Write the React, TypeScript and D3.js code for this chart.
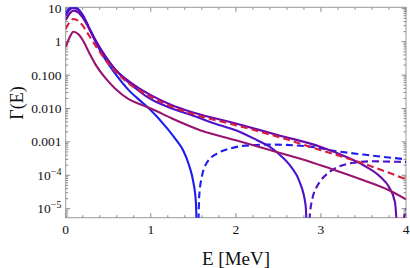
import React, { useEffect, useRef } from "react"
import * as d3 from "d3"

// Γ(E), stored as log10 values; -7 marks a zero crossing
const eBlue = [0, 0.05, 0.09, 0.15, 0.2, 0.27, 0.35, 0.47, 0.58, 0.74, 0.9, 1.0, 1.2, 1.3, 1.38, 1.45, 1.5, 1.53, 1.55]
const gBlue = [0.82, 1.02, 1.05, 0.97, 0.8, 0.43, 0.0, -0.55, -0.95, -1.45, -1.82, -2.05, -2.62, -2.95, -3.25, -3.7, -4.2, -4.8, -7]
const eBlueDash = [1.55, 1.57, 1.6, 1.66, 1.78, 1.93, 2.17, 2.4, 2.9, 3.11, 3.5, 4.0]
const gBlueDash = [-7, -4.6, -4.05, -3.62, -3.35, -3.2, -3.1, -3.08, -3.15, -3.25, -3.38, -3.52]

const eIndigo = [0, 0.05, 0.09, 0.15, 0.2, 0.27, 0.35, 0.47, 0.58, 0.74, 1.0, 1.25, 1.5, 1.75, 2.0, 2.25, 2.4, 2.5, 2.65, 2.75, 2.82, 2.85]
const gIndigo = [0.78, 0.97, 1.01, 0.95, 0.8, 0.45, 0.05, -0.45, -0.83, -1.22, -1.72, -2.0, -2.22, -2.45, -2.65, -2.95, -3.15, -3.35, -3.75, -4.2, -4.9, -7]
const eIndigoDash = [2.85, 2.87, 2.9, 2.95, 3.0, 3.1, 3.2, 3.4, 3.6, 3.8, 4.0]
const gIndigoDash = [-7, -5.2, -4.7, -4.35, -4.15, -3.9, -3.75, -3.62, -3.58, -3.59, -3.6]

const eViolet = [0, 0.05, 0.09, 0.15, 0.2, 0.27, 0.35, 0.47, 0.58, 0.74, 1.0, 1.25, 1.5, 2.0, 2.5, 3.0, 3.3, 3.5, 3.7, 3.8, 3.87, 3.92]
const gViolet = [0.65, 0.85, 0.93, 0.87, 0.72, 0.42, 0.03, -0.45, -0.82, -1.18, -1.6, -1.9, -2.12, -2.45, -2.8, -3.15, -3.45, -3.7, -4.05, -4.35, -4.8, -7]
const eVioletDash = [3.92, 3.94, 3.97, 4.0]
const gVioletDash = [-7, -5.9, -5.35, -5.0]

const eRed = [0, 0.05, 0.09, 0.15, 0.2, 0.27, 0.35, 0.47, 0.58, 0.74, 1.0, 1.25, 1.5, 2.0, 2.5, 3.0, 3.5, 4.0]
const gRed = [0.38, 0.6, 0.68, 0.62, 0.48, 0.2, -0.12, -0.55, -0.88, -1.25, -1.65, -1.95, -2.17, -2.5, -2.85, -3.25, -3.65, -4.12]

const eMagenta = [0, 0.05, 0.09, 0.15, 0.2, 0.27, 0.35, 0.47, 0.58, 0.74, 0.9, 1.0, 1.25, 1.58, 2.0, 2.41, 2.88, 3.11, 3.5, 3.8, 4.0]
const gMagenta = [-0.15, 0.15, 0.3, 0.22, 0.05, -0.3, -0.68, -1.1, -1.4, -1.72, -1.9, -2.0, -2.3, -2.65, -2.95, -3.25, -3.6, -3.8, -4.15, -4.45, -4.72]

const xTicks = [0, 1, 2, 3, 4]
const yTicks = [10, 1, 0.1, 0.01, 0.001, 1e-4, 1e-5]
const yTickLabels = ["10", "1", "0.100", "0.010", "0.001", "10", "10"]
const yTickSups = ["", "", "", "", "", "−4", "−5"]

const series = [
	{ e: eBlue, g: gBlue, color: "#1d1df0", dash: null },
	{ e: eBlueDash, g: gBlueDash, color: "#1d1df0", dash: "7,4" },
	{ e: eIndigo, g: gIndigo, color: "#4c12cc", dash: null },
	{ e: eIndigoDash, g: gIndigoDash, color: "#4c12cc", dash: "7,4" },
	{ e: eViolet, g: gViolet, color: "#6a0aaa", dash: null },
	{ e: eVioletDash, g: gVioletDash, color: "#6a0aaa", dash: "7,4" },
	{ e: eMagenta, g: gMagenta, color: "#981470", dash: null },
	{ e: eRed, g: gRed, color: "#d81c40", dash: "7,4" },
]

const W = 410
const H = 268

const App = () => {
	const ref = useRef<SVGSVGElement>(null)

	useEffect(() => {
		const left = 65.7
		const right = 406
		const top = 7.3
		const bottom = 217.7

		const x = d3.scaleLinear().domain([0, 4]).range([left, right])
		const y = d3
			.scaleLog()
			.domain([Math.pow(10, -5.27), Math.pow(10, 1.03)])
			.range([bottom, top])

		const svg = d3.select(ref.current)
		svg.selectAll("*").remove()

		svg
			.append("defs")
			.append("clipPath")
			.attr("id", "plot-clip")
			.append("rect")
			.attr("x", left)
			.attr("y", top)
			.attr("width", right - left)
			.attr("height", bottom - top)

		// frame
		svg
			.append("rect")
			.attr("x", left)
			.attr("y", top)
			.attr("width", right - left)
			.attr("height", bottom - top)
			.attr("fill", "none")
			.attr("stroke", "#9a9a9a")
			.attr("stroke-width", 1)

		const tickColor = "#8a8a8a"
		const g = svg.append("g")

		// x ticks, major and minor, bottom and top
		d3.range(0, 4.001, 0.2).forEach(v => {
			const major = Math.abs(v - Math.round(v)) < 1e-6
			const len = major ? 4.5 : 2.5
			g.append("line")
				.attr("x1", x(v)).attr("x2", x(v))
				.attr("y1", bottom).attr("y2", bottom - len)
				.attr("stroke", tickColor)
			g.append("line")
				.attr("x1", x(v)).attr("x2", x(v))
				.attr("y1", top).attr("y2", top + len)
				.attr("stroke", tickColor)
		})

		// y ticks
		for (let k = -6; k <= 1; k++) {
			for (let m = 1; m <= 9; m++) {
				const v = m * Math.pow(10, k)
				const yy = y(v)
				if (yy < top - 0.5 || yy > bottom + 0.5) continue
				const len = m === 1 ? 4.5 : 2.5
				g.append("line")
					.attr("x1", left).attr("x2", left + len)
					.attr("y1", yy).attr("y2", yy)
					.attr("stroke", tickColor)
				g.append("line")
					.attr("x1", right).attr("x2", right - len)
					.attr("y1", yy).attr("y2", yy)
					.attr("stroke", tickColor)
			}
		}

		const font = "'Liberation Serif', 'DejaVu Serif', serif"

		xTicks.forEach(v => {
			svg.append("text")
				.attr("x", x(v))
				.attr("y", 234)
				.attr("text-anchor", "middle")
				.style("font-family", font)
				.style("font-size", "13.5px")
				.style("fill", "#111")
				.text(v)
		})

		yTicks.forEach((v, i) => {
			const t = svg.append("text")
				.attr("x", 61.5)
				.attr("y", y(v) + 4.5)
				.attr("text-anchor", "end")
				.style("font-family", font)
				.style("font-size", "13.5px")
				.style("fill", "#111")
			t.append("tspan").text(yTickLabels[i])
			if (yTickSups[i]) {
				t.append("tspan")
					.attr("dy", -5)
					.style("font-size", "10px")
					.text(yTickSups[i])
			}
		})

		svg.append("text")
			.attr("x", 236)
			.attr("y", 265)
			.attr("text-anchor", "middle")
			.style("font-family", font)
			.style("font-size", "19px")
			.style("fill", "#111")
			.text("E [MeV]")

		svg.append("text")
			.attr("transform", "translate(23, 103) rotate(-90)")
			.attr("text-anchor", "middle")
			.style("font-family", font)
			.style("font-size", "18px")
			.style("fill", "#111")
			.text("Γ(E)")

		const line = d3
			.line<[number, number]>()
			.x(d => x(d[0]))
			.y(d => y(Math.pow(10, d[1])))
			.curve(d3.curveMonotoneX)

		const plot = svg.append("g").attr("clip-path", "url(#plot-clip)")
		series.forEach(s => {
			const pts = s.e.map((e, i) => [e, s.g[i]] as [number, number])
			plot.append("path")
				.attr("d", line(pts))
				.attr("fill", "none")
				.attr("stroke", s.color)
				.attr("stroke-width", 2.1)
				.attr("stroke-dasharray", s.dash)
		})
	}, [])

	return (
		<svg
			ref={ref}
			width={W}
			height={H}
			style={{ position: "absolute", left: 0, top: 0, background: "#fff" }}
		/>
	)
}

export default App
